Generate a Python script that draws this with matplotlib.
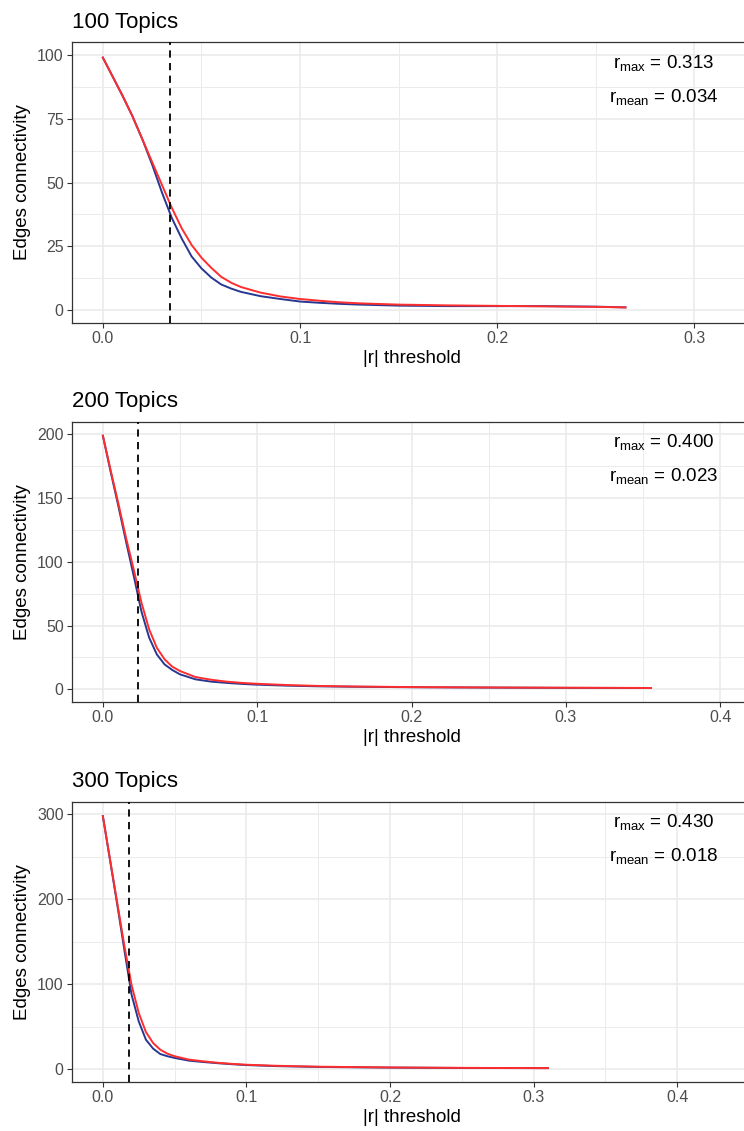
import matplotlib
matplotlib.use("Agg")
import matplotlib.pyplot as plt
from matplotlib.ticker import MultipleLocator

plt.rcParams['font.family'] = ['Liberation Sans', 'DejaVu Sans']

# ---------------- data ----------------
titles = ["100 Topics", "200 Topics", "300 Topics"]
n_topics = [100, 200, 300]
r_max = [0.313, 0.400, 0.430]
r_mean = [0.034, 0.023, 0.018]
r_max_txt = ["0.313", "0.400", "0.430"]
r_mean_txt = ["0.034", "0.023", "0.018"]
x_major = [0.1, 0.1, 0.1]
y_major = [25, 50, 100]

x100 = [0, .005, .01, .015, .02, .025, .03, .035, .04, .045, .05, .055, .06, .065,
        .07, .08, .09, .10, .11, .12, .13, .15, .175, .20, .225, .25, .265]
red100 = [99, 91.5, 84, 76, 67, 58, 49, 40, 32, 25.5, 20.5, 16.5, 13, 10.7,
          9, 6.8, 5.3, 4.3, 3.6, 3.0, 2.6, 2.1, 1.8, 1.6, 1.4, 1.2, 1.0]
blue100 = [99, 91.5, 84, 76, 67, 57, 46, 36, 28, 21, 16.3, 12.7, 10, 8.4,
           7.1, 5.4, 4.3, 3.3, 2.8, 2.4, 2.1, 1.7, 1.5, 1.5, 1.5, 1.3, 1.0]

x200 = [0, .005, .01, .015, .02, .025, .03, .035, .04, .045, .05, .06, .07, .08,
        .09, .10, .12, .14, .16, .20, .25, .30, .355]
red200 = [199, 172, 146, 119, 94, 68, 47, 32.5, 23.5, 17.7, 14.3, 9.6, 7.5, 6.0,
          5.0, 4.3, 3.3, 2.6, 2.2, 1.7, 1.4, 1.2, 1.0]
blue200 = [199, 171, 144, 116, 89, 61, 40.5, 27.3, 19.5, 15.1, 11.7, 7.8, 6.0, 5.0,
           4.2, 3.6, 2.8, 2.3, 2.0, 1.6, 1.3, 1.1, 1.0]

x300 = [0, .005, .01, .015, .02, .025, .03, .035, .04, .045, .05, .06, .07, .08,
        .09, .10, .12, .15, .20, .25, .31]
red300 = [298, 247, 196, 145, 99, 66, 43.5, 30.6, 22.7, 18, 15, 11, 9, 7.3,
          6.0, 5.0, 3.8, 2.7, 1.8, 1.3, 1.0]
blue300 = [298, 246, 194, 140, 87.5, 56, 34.5, 24, 17.6, 15, 13, 9.8, 8.2, 6.8,
           5.6, 4.6, 3.4, 2.4, 1.6, 1.2, 1.0]

xs = [x100, x200, x300]
reds = [red100, red200, red300]
blues = [blue100, blue200, blue300]

BLUE = "#283891"
RED = "#FF2D2D"
GRID = "#EBEBEB"

W, H = 744, 1131
fig = plt.figure(figsize=(W / 100, H / 100), dpi=100)

panel_px = [(42.3, 322.7), (421.7, 702.0), (801.7, 1081.7)]
left_px, width_px = 72, 679

for i in range(3):
    top, bot = panel_px[i]
    ax = fig.add_axes([left_px / W, 1 - bot / H, width_px / W, (bot - top) / H])
    N = n_topics[i]
    rng = r_max[i]
    ax.set_xlim(-0.05 * rng, 1.05 * rng)
    ax.set_ylim(-0.05 * N, 1.05 * N)
    ax.xaxis.set_major_locator(MultipleLocator(x_major[i]))
    ax.xaxis.set_minor_locator(MultipleLocator(x_major[i] / 2))
    ax.yaxis.set_major_locator(MultipleLocator(y_major[i]))
    ax.yaxis.set_minor_locator(MultipleLocator(y_major[i] / 2))
    ax.grid(True, which='major', color=GRID, linewidth=1.2)
    ax.grid(True, which='minor', color=GRID, linewidth=0.7)
    ax.set_axisbelow(True)
    ax.xaxis.set_major_formatter(matplotlib.ticker.FormatStrFormatter('%.1f'))
    ax.tick_params(which='major', length=3.5, width=0.8, color='#333333',
                   labelsize=11.5, labelcolor='#4D4D4D', pad=2.5)
    ax.tick_params(which='minor', length=0)
    for s in ax.spines.values():
        s.set_color('#333333')
        s.set_linewidth(0.9)

    ax.plot(xs[i], blues[i], color=BLUE, linewidth=1.4, zorder=3)
    ax.plot(xs[i], reds[i], color=RED, linewidth=1.4, zorder=4)
    ax.axvline(r_mean[i], color='black', linestyle=(0, (4, 3)), linewidth=1.3, zorder=5)

    h = bot - top
    ax.text(0.872, 1 - 20.7 / h, r'$\mathregular{r_{max}}$ = ' + r_max_txt[i],
            transform=ax.transAxes, ha='center', va='center', fontsize=13.5, color='black')
    ax.text(0.872, 1 - 54.7 / h, r'$\mathregular{r_{mean}}$ = ' + r_mean_txt[i],
            transform=ax.transAxes, ha='center', va='center', fontsize=13.5, color='black')

    ax.set_title(titles[i], loc='left', fontsize=16, pad=10.5)
    ax.set_xlabel("|r| threshold", fontsize=13.5, labelpad=3)
    ax.set_ylabel("Edges connectivity", fontsize=13.5, labelpad=4.5)

fig.savefig("out.png", dpi=100)
